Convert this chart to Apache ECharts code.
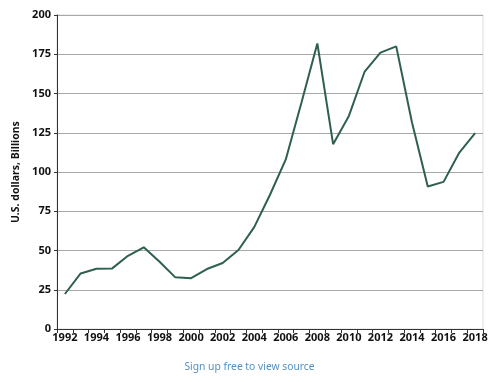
<!DOCTYPE html>
<html>
<head>
<meta charset="utf-8">
<script src="https://cdn.jsdelivr.net/npm/echarts@6/dist/echarts.min.js"></script>
<style>html,body{margin:0;padding:0;background:#fff}#c{width:499px;height:382px}</style>
</head>
<body>
<div id="c"></div>
<script>
const years = ['1992','1993','1994','1995','1996','1997','1998','1999','2000','2001','2002','2003','2004','2005','2006','2007','2008','2009','2010','2011','2012','2013','2014','2015','2016','2017','2018'];
const values = [22.3,35.4,38.4,38.6,46.6,52.0,42.8,32.9,32.4,38.2,42.0,50.3,64.9,85.5,108.0,144.4,181.9,117.7,135.7,164.0,176.0,180.0,131.5,90.8,93.7,112.4,124.7];
const yTicks = [0,25,50,75,100,125,150,175,200];
const yAxisName = 'U.S. dollars, Billions';
const footer = 'Sign up free to view source';

const chart = echarts.init(document.getElementById('c'), null, {renderer:'canvas'});
const F = '"Noto Sans", "DejaVu Sans", sans-serif';
chart.setOption({
  animation:false,
  backgroundColor:'#fff',
  title:{
    text: footer, left:'center', bottom: 5,
    textStyle:{fontFamily:F, fontSize:10.3, fontWeight:'normal', color:'#5590c0'}
  },
  grid:{left:57, right:16, top:15, bottom:53, containLabel:false,
        show:true, borderColor:'#dcdcdc', borderWidth:1},
  xAxis:{
    type:'category', data: years, boundaryGap:true,
    axisLine:{lineStyle:{color:'#333', width:1}},
    axisTick:{show:true, interval:0, length:4, lineStyle:{color:'#333'}},
    axisLabel:{interval:1, fontFamily:F, fontSize:11, fontWeight:'bold', color:'#111', margin:3},
    splitLine:{show:false}
  },
  yAxis:{
    type:'value', min:yTicks[0], max:yTicks[yTicks.length-1], interval:25,
    name: yAxisName, nameLocation:'middle', nameGap:33, nameRotate:90,
    nameTextStyle:{fontFamily:F, fontSize:10.5, fontWeight:'bold', color:'#111'},
    axisLine:{show:true, lineStyle:{color:'#333', width:1}},
    axisTick:{show:true, length:3, lineStyle:{color:'#333'}},
    axisLabel:{fontFamily:F, fontSize:11, fontWeight:'bold', color:'#111', margin:6},
    splitLine:{show:true, lineStyle:{color:'#a8a8a8', width:1}}
  },
  series:[{
    type:'line', data: values, symbol:'none', smooth:false,
    lineStyle:{color:'#2f5f4f', width:2}
  }]
});
</script>
</body>
</html>
